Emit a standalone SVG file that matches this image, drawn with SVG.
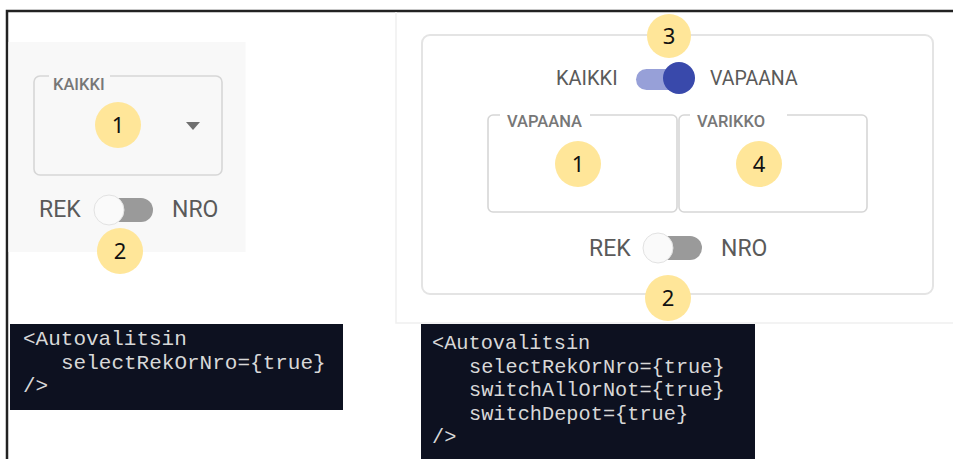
<svg xmlns="http://www.w3.org/2000/svg" width="953" height="459" viewBox="0 0 953 459">
<defs>
<style>
.ui{font-family:Roboto,"Liberation Sans",sans-serif;fill:#5a5a5a}
.lbl{font-family:Roboto,"Liberation Sans",sans-serif;fill:#777;font-size:16.5px;font-weight:500}
.badge circle{fill:#ffe699}
.badge text{font-family:"Noto Sans","Liberation Sans",sans-serif;font-size:22px;fill:#111;text-anchor:middle}
.code rect{fill:#0d1120}
.code text{font-family:"Liberation Mono",monospace;fill:#d8d8d8;white-space:pre}
.box{fill:none;stroke:#d6d6d6;stroke-width:1.6}
</style>
</defs>
<rect width="953" height="459" fill="#ffffff"/>
<!-- outer frame -->
<path d="M7,459 V11 H953" fill="none" stroke="#222" stroke-width="2.5"/>
<!-- left panel -->
<g id="left-panel">
<rect x="8.5" y="42" width="237" height="210" fill="#f8f8f8"/>
<path class="box" d="M49,76 H40 a6,6 0 0 0 -6,6 V169 a6,6 0 0 0 6,6 H216 a6,6 0 0 0 6,-6 V82 a6,6 0 0 0 -6,-6 H110"/>
<text class="lbl" x="53" y="90">KAIKKI</text>
<path d="M186,122 h14 l-7,8 z" fill="#707070"/>
<text class="ui" x="39" y="217" font-size="23" fill="#444">REK</text>
<rect x="97" y="198" width="56" height="24" rx="12" fill="#9a9a9a"/>
<circle cx="109" cy="210" r="15" fill="#fafafa" stroke="#e2e2e2" stroke-width="1"/>
<text class="ui" x="172" y="217" font-size="23" fill="#444">NRO</text>
</g>
<!-- right panel -->
<g id="right-panel">
<path d="M396,12 V323 H953" fill="none" stroke="#f0f0f0" stroke-width="1.5"/>
<rect x="422" y="35" width="511" height="259" rx="8" fill="#ffffff" stroke="#e4e4e4" stroke-width="2"/>
<text class="ui" x="556" y="85" font-size="20" fill="#505050">KAIKKI</text>
<rect x="636" y="69" width="54" height="21" rx="10.5" fill="#97a0d8"/>
<circle cx="679" cy="78" r="16" fill="#3949ab"/>
<text class="ui" x="710" y="85" font-size="19.5" fill="#505050">VAPAANA</text>
<path class="box" d="M500,115 H493 a5,5 0 0 0 -5,5 V207 a5,5 0 0 0 5,5 H672 a5,5 0 0 0 5,-5 V120 a5,5 0 0 0 -5,-5 H590"/>
<text class="lbl" x="507" y="127" font-size="18">VAPAANA</text>
<path class="box" d="M690,115 H684 a5,5 0 0 0 -5,5 V207 a5,5 0 0 0 5,5 H862 a5,5 0 0 0 5,-5 V120 a5,5 0 0 0 -5,-5 H787"/>
<text class="lbl" x="697" y="127" font-size="18">VARIKKO</text>
<text class="ui" x="589" y="256" font-size="23" fill="#444">REK</text>
<rect x="645" y="236" width="57" height="24" rx="12" fill="#9a9a9a"/>
<circle cx="658" cy="248" r="15" fill="#fafafa" stroke="#e2e2e2" stroke-width="1"/>
<text class="ui" x="721" y="256" font-size="23" fill="#444">NRO</text>
</g>
<!-- badges -->
<g id="badge-left-1" class="badge"><circle cx="118" cy="125" r="23"/><text x="118" y="133">1</text></g>
<g id="badge-left-2" class="badge"><circle cx="120" cy="251" r="23"/><text x="120" y="259">2</text></g>
<g id="badge-right-3" class="badge"><circle cx="669" cy="36" r="22"/><text x="669" y="44">3</text></g>
<g id="badge-right-1" class="badge"><circle cx="578" cy="164" r="23"/><text x="578" y="172">1</text></g>
<g id="badge-right-4" class="badge"><circle cx="759" cy="164" r="23"/><text x="759" y="172">4</text></g>
<g id="badge-right-2" class="badge"><circle cx="668" cy="298" r="23"/><text x="668" y="306">2</text></g>
<!-- code blocks -->
<g id="code-left" class="code">
<rect x="10" y="324" width="333" height="86"/>
<text font-size="21"><tspan x="23" y="345">&lt;Autovalitsin</tspan><tspan x="61" y="369">selectRekOrNro={true}</tspan><tspan x="23" y="392">/&gt;</tspan></text>
</g>
<g id="code-right" class="code">
<rect x="421" y="324" width="334" height="135"/>
<text font-size="20.3"><tspan x="432" y="349">&lt;Autovalitsin</tspan><tspan x="469" y="373">selectRekOrNro={true}</tspan><tspan x="469" y="396">switchAllOrNot={true}</tspan><tspan x="469" y="420">switchDepot={true}</tspan><tspan x="432" y="443">/&gt;</tspan></text>
</g>
<g id="connectors"/>
</svg>
